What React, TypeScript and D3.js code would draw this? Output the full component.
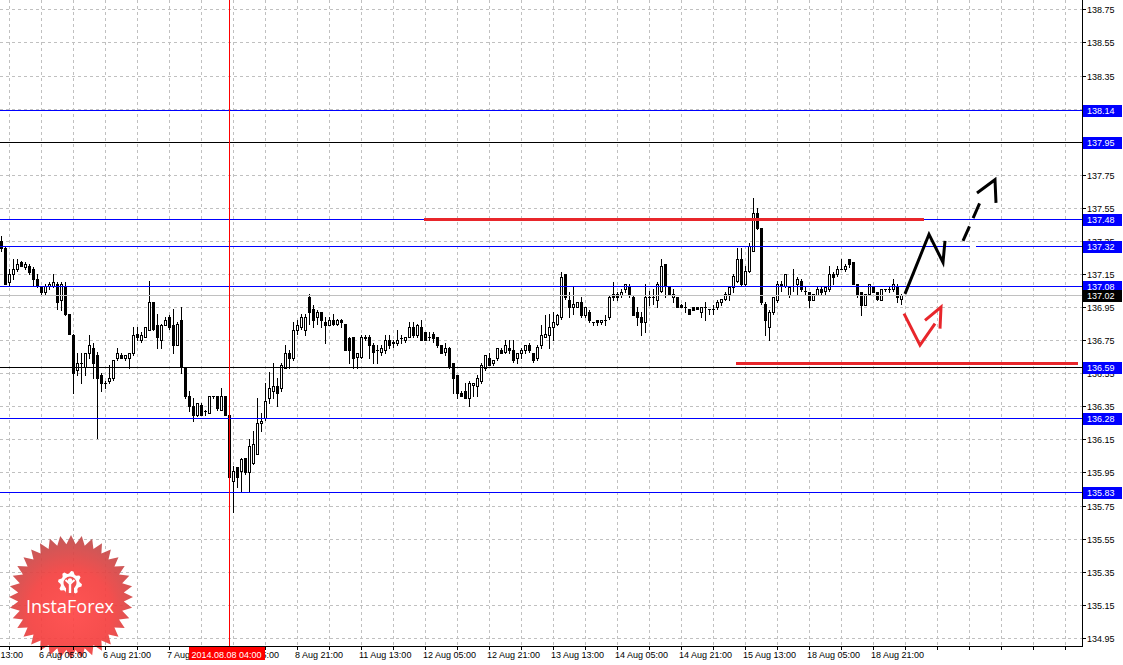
import React from "react";
import * as d3 from "d3";

// ---------- DATA (USDJPY-like H1 candles) ----------
const opens = [
  137.35,137.31,137.10,137.15,137.18,137.22,137.19,137.20,137.18,137.12,
  137.08,137.04,137.08,137.08,137.09,136.99,137.07,136.91,136.78,136.57,
  136.61,136.59,136.67,136.70,136.66,136.54,136.49,136.50,136.52,136.64,
  136.66,136.64,136.64,136.67,136.79,136.75,136.77,136.81,136.98,136.84,
  136.75,136.84,136.89,136.84,136.72,136.87,136.58,136.41,136.35,136.30,
  136.36,136.32,136.31,136.41,136.41,136.33,136.41,136.30,135.90,135.98,
  135.96,136.04,135.95,136.01,136.06,136.25,136.28,136.40,136.44,136.47,
  136.46,136.58,136.67,136.64,136.81,136.83,136.81,137.01,136.94,136.89,
  136.92,136.86,136.84,136.87,136.85,136.87,136.85,136.76,136.77,136.65,
  136.65,136.76,136.77,136.72,136.69,136.68,136.69,136.75,136.73,136.73,
  136.76,136.75,136.77,136.83,136.78,136.83,136.80,136.77,136.79,136.77,
  136.72,136.68,136.70,136.61,136.54,136.43,136.44,136.40,136.48,136.47,
  136.50,136.58,136.64,136.61,136.64,136.69,136.68,136.70,136.69,136.64,
  136.67,136.69,136.72,136.67,136.64,136.72,136.77,136.78,136.83,136.85,
  136.89,137.15,136.99,136.95,136.95,136.98,136.90,136.92,136.86,136.87,
  136.86,136.87,136.89,137.03,137.03,137.02,137.06,137.08,137.01,136.92,
  136.89,136.86,137.01,137.01,136.99,137.05,137.21,137.08,137.01,137.01,
  136.96,136.95,136.94,136.95,136.95,136.92,136.95,136.94,136.94,136.95,
  136.98,137.00,137.03,137.07,137.11,137.24,137.09,137.17,137.29,137.52,
  137.43,136.97,136.83,136.92,136.99,137.09,137.08,137.02,137.08,137.09,
  137.11,137.05,137.04,136.99,137.02,137.06,137.05,137.06,137.15,137.15,
  137.18,137.18,137.24,137.22,137.09,137.04,136.96,137.03,137.08,137.04,
  136.99,137.06,137.06,137.06,137.08,137.00,
];
const highs = [
  137.38,137.32,137.18,137.24,137.24,137.23,137.22,137.21,137.19,137.15,
  137.08,137.09,137.10,137.15,137.10,137.10,137.10,136.91,136.79,136.67,
  136.67,136.67,136.78,136.73,136.68,136.55,136.50,136.60,136.63,136.70,
  136.67,136.66,136.67,136.83,136.83,136.80,136.83,137.11,136.98,136.91,
  136.85,136.89,136.90,136.94,136.86,136.95,136.58,136.44,136.40,136.37,
  136.37,136.33,136.41,136.41,136.41,136.46,136.41,136.31,135.99,135.98,
  136.04,136.04,136.15,136.20,136.40,136.31,136.49,136.56,136.61,136.52,
  136.61,136.72,136.69,136.86,136.87,136.91,136.91,137.03,136.96,136.93,
  136.92,136.89,136.89,136.91,136.88,136.88,136.85,136.77,136.77,136.67,
  136.78,136.78,136.78,136.73,136.72,136.72,136.78,136.78,136.75,136.81,
  136.78,136.77,136.86,136.86,136.85,136.87,136.80,136.80,136.80,136.77,
  136.72,136.73,136.71,136.61,136.54,136.44,136.49,136.50,136.49,136.54,
  136.61,136.66,136.67,136.63,136.70,136.70,136.75,136.75,136.75,136.67,
  136.70,136.72,136.73,136.67,136.72,136.84,136.90,136.91,136.92,136.91,
  137.16,137.15,137.04,137.07,136.98,137.01,136.95,136.93,136.86,136.87,
  136.87,136.90,137.02,137.10,137.04,137.06,137.09,137.09,137.02,136.95,
  136.92,137.09,137.05,137.06,137.10,137.24,137.21,137.08,137.06,137.01,
  136.97,136.98,136.94,136.95,136.95,136.95,136.98,136.94,136.96,136.99,
  137.00,137.04,137.08,137.15,137.31,137.31,137.20,137.34,137.61,137.55,
  137.43,136.98,136.93,137.01,137.11,137.11,137.15,137.08,137.18,137.13,
  137.12,137.07,137.04,137.03,137.07,137.07,137.08,137.20,137.16,137.20,
  137.24,137.21,137.24,137.22,137.09,137.04,137.03,137.09,137.08,137.04,
  137.06,137.06,137.07,137.12,137.09,137.03,
];
const lows = [
  137.29,137.09,137.08,137.12,137.17,137.20,137.18,137.15,137.08,137.07,
  137.03,137.02,137.06,137.07,136.94,136.93,136.90,136.79,136.43,136.54,
  136.49,136.54,136.64,136.52,136.16,136.44,136.46,136.49,136.51,136.63,
  136.64,136.63,136.58,136.66,136.75,136.74,136.77,136.81,136.81,136.70,
  136.70,136.84,136.82,136.67,136.72,136.55,136.40,136.32,136.26,136.29,
  136.30,136.30,136.31,136.40,136.33,136.33,136.30,135.91,135.71,135.86,
  135.84,135.94,135.84,136.00,136.06,136.20,136.27,136.37,136.40,136.35,
  136.44,136.58,136.58,136.63,136.79,136.82,136.78,136.85,136.83,136.85,
  136.83,136.73,136.84,136.84,136.84,136.83,136.69,136.61,136.58,136.58,
  136.64,136.75,136.64,136.61,136.61,136.66,136.67,136.70,136.71,136.72,
  136.73,136.74,136.77,136.77,136.77,136.75,136.75,136.75,136.74,136.71,
  136.67,136.66,136.58,136.43,136.40,136.41,136.40,136.35,136.41,136.41,
  136.49,136.57,136.60,136.60,136.63,136.67,136.67,136.67,136.62,136.61,
  136.64,136.67,136.68,136.62,136.63,136.70,136.77,136.70,136.75,136.84,
  136.88,137.00,136.89,136.91,136.95,136.89,136.89,136.86,136.84,136.84,
  136.85,136.84,136.88,136.99,136.99,137.01,137.04,137.01,136.90,136.84,
  136.78,136.80,136.96,136.97,136.95,137.04,137.01,137.02,136.98,136.95,
  136.95,136.92,136.91,136.93,136.94,136.89,136.87,136.91,136.91,136.94,
  136.96,136.99,136.99,137.04,137.10,137.08,137.08,137.16,137.29,137.42,
  136.97,136.78,136.75,136.91,136.98,137.05,137.07,137.01,137.05,137.03,
  137.05,137.03,136.95,136.99,137.02,137.03,137.03,137.05,137.09,137.14,
  137.18,137.17,137.19,137.09,137.01,136.90,136.96,137.03,137.04,136.99,
  136.99,137.05,137.04,137.05,136.98,136.97,
];
const closes = [
  137.31,137.09,137.15,137.18,137.21,137.20,137.21,137.16,137.12,137.08,
  137.04,137.08,137.09,137.10,136.98,137.09,136.91,136.79,136.55,136.61,
  136.61,136.67,136.72,136.61,136.52,136.49,136.49,136.52,136.63,136.67,
  136.64,136.66,136.67,136.78,136.77,136.78,136.83,136.98,136.82,136.77,
  136.84,136.87,136.83,136.72,136.85,136.59,136.41,136.35,136.30,136.37,
  136.30,136.32,136.41,136.41,136.34,136.41,136.30,135.92,135.96,135.92,
  136.03,135.95,136.11,136.12,136.25,136.26,136.38,136.46,136.47,136.43,
  136.60,136.67,136.64,136.81,136.84,136.89,136.89,136.92,136.87,136.92,
  136.87,136.84,136.87,136.85,136.87,136.86,136.69,136.69,136.64,136.67,
  136.77,136.77,136.72,136.68,136.69,136.70,136.75,136.72,136.74,136.75,
  136.76,136.77,136.83,136.78,136.84,136.75,136.75,136.77,136.76,136.72,
  136.67,136.70,136.59,136.52,136.43,136.41,136.40,136.49,136.49,136.52,
  136.60,136.66,136.60,136.63,136.70,136.67,136.72,136.69,136.63,136.67,
  136.69,136.72,136.69,136.63,136.71,136.78,136.79,136.83,136.86,136.90,
  137.13,137.01,136.95,136.97,136.98,136.90,136.95,136.87,136.86,136.86,
  136.87,136.87,137.01,137.01,137.01,137.04,137.09,137.02,136.90,136.89,
  136.86,137.01,137.01,137.01,137.09,137.20,137.08,137.02,137.03,136.95,
  136.95,136.95,136.91,136.93,136.94,136.95,136.95,136.94,136.94,136.98,
  137.00,137.03,137.07,137.14,137.24,137.09,137.17,137.32,137.52,137.43,
  136.98,136.87,136.92,137.01,137.09,137.08,137.15,137.07,137.08,137.12,
  137.06,137.05,136.99,137.03,137.06,137.04,137.07,137.15,137.13,137.18,
  137.18,137.20,137.21,137.09,137.03,136.96,137.03,137.09,137.04,137.00,
  137.06,137.06,137.06,137.09,137.01,137.02,
];

const priceTicks = [138.75,138.55,138.35,138.15,137.95,137.75,137.55,137.35,137.15,136.95,136.75,136.55,136.35,136.15,135.95,135.75,135.55,135.35,135.15,134.95];
const dateLabels = ["5 Aug 13:00","6 Aug 05:00","6 Aug 21:00","7 Aug 13:00","8 Aug 05:00","8 Aug 21:00","11 Aug 13:00","12 Aug 05:00","12 Aug 21:00","13 Aug 13:00","14 Aug 05:00","14 Aug 21:00","15 Aug 13:00","18 Aug 05:00","18 Aug 21:00"];
const dateLabelBars = [-6,10,26,42,58,74,90,106,122,138,154,170,186,202,218];
const gridBars = d3.range(2, 272, 8);

const levelPrices = [138.14, 137.95, 137.48, 137.32, 137.08, 136.59, 136.28, 135.83];
const levelKinds = ["blue","black","blue","blue","blue","black","blue","blue"];
const bidPrice = 137.02;

const cursorBar = 57;
const cursorLabel = "2014.08.08 04:00";

// hand drawn annotations (bar index, price)
const redZoneTop = { from: 105.75, to: 230.75, price: 137.48 };
const redZoneBottom = { from: 183.75, to: 269.25, price: 136.61 };
const blackPathBars = [226, 232, 235.5, 236];
const blackPathPrices = [137.03, 137.39, 137.22, 137.35];
const dashBars = [240.5, 245.25];
const dashPrices = [137.35, 137.61];
const dashHeadBars = [244, 248.5, 248.75];
const dashHeadPrices = [137.64, 137.72, 137.58];
const redPathBars = [225.75, 229.75, 233.5];
const redPathPrices = [136.91, 136.72, 136.85];
const redHeadBars = [231, 235, 234.75];
const redHeadPrices = [136.87, 136.95, 136.82];
const levelGap = { from: 242.25, to: 243.75, price: 137.32 };

// ---------- LAYOUT ----------
const W = 1123, H = 665;
const plotRight = 1082, plotBottom = 646;
const FONT = "'Liberation Sans', Arial, sans-serif";
const FS = 9;

export default function App() {
  const n = opens.length;
  const x = d3.scaleLinear().domain([0, n - 1]).range([1, 1 + 4 * (n - 1)]);
  const y = d3.scaleLinear().domain([134.95, 138.75]).range([637.8, 9.4]);
  const py = (p: number) => Math.round(y(p));

  const line = d3.line<[number, number]>().x(d => x(d[0])).y(d => y(d[1]));
  const zip = (a: number[], b: number[]) => a.map((v, i) => [v, b[i]] as [number, number]);

  // starburst logo
  const cx = 71, cy = 597, R = 62, r = 53, spikes = 36;
  const star = d3.range(spikes * 2).map(k => {
    const a = (Math.PI * k) / spikes - Math.PI / 2;
    const rad = k % 2 === 0 ? R : r;
    return [cx + rad * Math.cos(a), cy + rad * Math.sin(a)] as [number, number];
  });
  const gcx = 70, gcy = 583, teeth = 8;
  const gear = d3.range(teeth * 4).map(k => {
    const a = (Math.PI * 2 * k) / (teeth * 4) + Math.PI / 2 + Math.PI / (teeth * 4);
    const rad = (Math.floor(k / 2) % 2 === 0) ? 12 : 9.5;
    return [gcx + rad * Math.cos(a), gcy + rad * Math.sin(a)] as [number, number];
  });

  const cursorX = Math.round(x(cursorBar)) + 0.5;

  return (
    <svg width={W} height={H} style={{ position: "absolute", left: 0, top: 0, background: "#fff" }}
      fontFamily={FONT}>
      <defs>
        <radialGradient id="logoGrad" cx="0.5" cy="0.62" r="0.6">
          <stop offset="0%" stopColor="#ff4646" />
          <stop offset="55%" stopColor="#f5403f" />
          <stop offset="100%" stopColor="#c24b4b" />
        </radialGradient>
        <clipPath id="plotClip"><rect x={0} y={0} width={plotRight} height={plotBottom} /></clipPath>
      </defs>
      <rect x={0} y={0} width={W} height={H} fill="#fff" />

      {/* grid */}
      <g stroke="#c0c0c0" strokeDasharray="3,3" shapeRendering="crispEdges">
        {priceTicks.map(t => (
          <line key={"h" + t} x1={0} x2={plotRight} y1={py(t) + 0.5} y2={py(t) + 0.5} />
        ))}
        {gridBars.filter(b => x(b) < plotRight).map(b => (
          <line key={"v" + b} x1={Math.round(x(b)) + 0.5} x2={Math.round(x(b)) + 0.5} y1={0} y2={plotBottom} />
        ))}
      </g>

      {/* logo */}
      <g opacity={0.92}>
        <path d={d3.line()(star)! + "Z"} fill="url(#logoGrad)" />
        <path d={d3.line()(gear)! + "Z"} fill="#fff" />
        <circle cx={gcx} cy={gcy} r={6.5} fill="#f04343" />
        <rect x={gcx - 4} y={gcy + 5} width={8} height={8} fill="#f24444" />
        <circle cx={gcx} cy={gcy - 2.5} r={2.2} fill="#fff" />
        <path d={`M${gcx - 4.5},${gcy - 3} L${gcx},${gcy + 1} L${gcx + 4.5},${gcy - 3}`} stroke="#fff" strokeWidth={2} fill="none" />
        <rect x={gcx - 1.2} y={gcy} width={2.4} height={10} fill="#fff" />
        <text x={cx - 1} y={cy + 16} textAnchor="middle" fill="#fff" fontSize={18}
          fontFamily="'Open Sans', 'Noto Sans', sans-serif">InstaForex</text>
      </g>

      <g clipPath="url(#plotClip)" shapeRendering="crispEdges">
        {/* candles */}
        {opens.map((o, i) => {
          const c = closes[i];
          const cxp = Math.round(x(i));
          const hi = py(highs[i]), lo = py(lows[i]);
          const top = py(Math.max(o, c)), bot = py(Math.min(o, c));
          const bull = c >= o;
          return (
            <g key={i}>
              <line x1={cxp + 0.5} x2={cxp + 0.5} y1={hi} y2={lo + 1} stroke="#000" />
              {bot - top < 1 ? (
                <line x1={cxp - 1} x2={cxp + 2} y1={top + 0.5} y2={top + 0.5} stroke="#000" />
              ) : bull ? (
                <rect x={cxp - 0.5} y={top + 0.5} width={2} height={bot - top} fill="#fff" stroke="#000" />
              ) : (
                <rect x={cxp - 1} y={top} width={3} height={bot - top + 1} fill="#000" />
              )}
            </g>
          );
        })}

        {/* horizontal levels */}
        {levelPrices.map((p, i) => (
          <line key={"l" + p} x1={0} x2={plotRight} y1={py(p) + 0.5} y2={py(p) + 0.5}
            stroke={levelKinds[i] === "blue" ? "#0000ff" : "#000"} />
        ))}
        <line x1={0} x2={plotRight} y1={py(bidPrice) + 0.5} y2={py(bidPrice) + 0.5} stroke="#c0c0c0" />
        <line x1={x(levelGap.from)} x2={x(levelGap.to)} y1={py(levelGap.price) + 0.5} y2={py(levelGap.price) + 0.5} stroke="#fff" />

        {/* red zones */}
        <line x1={x(redZoneTop.from)} x2={x(redZoneTop.to)} y1={py(redZoneTop.price) + 0.5} y2={py(redZoneTop.price) + 0.5}
          stroke="#e8262b" strokeWidth={3} />
        <line x1={x(redZoneBottom.from)} x2={x(redZoneBottom.to)} y1={py(redZoneBottom.price) + 0.5} y2={py(redZoneBottom.price) + 0.5}
          stroke="#e8262b" strokeWidth={3} />
      </g>

      {/* annotations */}
      <g fill="none" strokeLinejoin="miter" strokeLinecap="butt">
        <path d={line(zip(blackPathBars, blackPathPrices))!} stroke="#000" strokeWidth={3} />
        <path d={line(zip(dashBars, dashPrices))!} stroke="#000" strokeWidth={3} strokeDasharray="16,9" />
        <path d={line(zip(dashHeadBars, dashHeadPrices))!} stroke="#000" strokeWidth={3} />
        <path d={line(zip(redPathBars, redPathPrices))!} stroke="#e8262b" strokeWidth={3} />
        <path d={line(zip(redHeadBars, redHeadPrices))!} stroke="#e8262b" strokeWidth={3} />
      </g>

      {/* cursor line */}
      <line x1={cursorX} x2={cursorX} y1={0} y2={plotBottom} stroke="#ff0000" shapeRendering="crispEdges" />

      {/* frame */}
      <g stroke="#000" shapeRendering="crispEdges">
        <line x1={0} x2={plotRight + 1} y1={plotBottom + 0.5} y2={plotBottom + 0.5} />
        <line x1={plotRight + 0.5} x2={plotRight + 0.5} y1={0} y2={plotBottom + 1} />
        {priceTicks.map(t => (
          <line key={"pt" + t} x1={plotRight} x2={plotRight + 4} y1={py(t) + 0.5} y2={py(t) + 0.5} />
        ))}
        {gridBars.filter(b => x(b) < plotRight).map(b => (
          <line key={"bt" + b} x1={Math.round(x(b)) + 0.5} x2={Math.round(x(b)) + 0.5} y1={plotBottom} y2={plotBottom + 4} />
        ))}
      </g>

      {/* price labels */}
      <g fontSize={FS} fill="#000">
        {priceTicks.map(t => (
          <text key={"ptl" + t} x={1087} y={py(t) + 3.5}>{t.toFixed(2)}</text>
        ))}
      </g>

      {/* date labels */}
      <g fontSize={FS} fill="#000">
        {dateLabels.map((s, i) => (
          <text key={s} x={x(dateLabelBars[i]) - 2} y={658}>{s}</text>
        ))}
      </g>

      {/* level price boxes */}
      {levelPrices.map(p => (
        <g key={"lb" + p}>
          <rect x={1083} y={py(p) - 5} width={39} height={12} fill="#0000ff" shapeRendering="crispEdges" />
          <text x={1087} y={py(p) + 4} fontSize={FS} fill="#fff">{p.toFixed(2)}</text>
        </g>
      ))}
      <rect x={1083} y={py(bidPrice) - 5} width={39} height={12} fill="#000" shapeRendering="crispEdges" />
      <text x={1087} y={py(bidPrice) + 4} fontSize={FS} fill="#fff">{bidPrice.toFixed(2)}</text>

      {/* cursor date box */}
      <rect x={cursorX - 41} y={647} width={76} height={13} fill="#ff0000" shapeRendering="crispEdges" />
      <text x={cursorX - 3} y={657.5} fontSize={FS} fill="#fff" textAnchor="middle">{cursorLabel}</text>
    </svg>
  );
}
